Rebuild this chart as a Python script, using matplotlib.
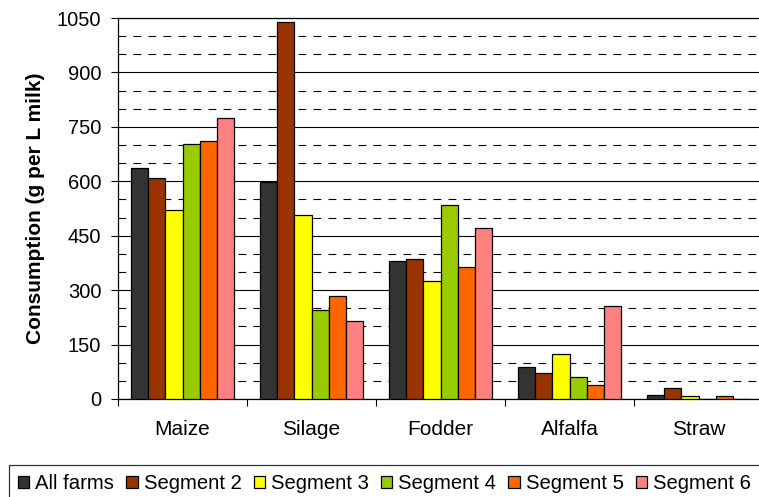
import matplotlib.pyplot as plt
import numpy as np
from matplotlib.ticker import MultipleLocator, FixedLocator, NullFormatter

plt.rcParams['font.family'] = ['Liberation Sans', 'DejaVu Sans']

feeds = ["Maize", "Silage", "Fodder", "Alfalfa", "Straw"]
groups = ["All farms", "Segment 2", "Segment 3", "Segment 4", "Segment 5", "Segment 6"]
all_farms = [637, 597, 379, 87, 12]
segment_2 = [609, 1040, 385, 73, 29]
segment_3 = [522, 508, 326, 123, 7]
segment_4 = [703, 246, 534, 61, 0]
segment_5 = [712, 283, 363, 39, 7]
segment_6 = [774, 216, 472, 255, 0]
colors = ["#333333", "#993300", "#FFFF00", "#99CC00", "#FF6600", "#FF8080"]

series = [all_farms, segment_2, segment_3, segment_4, segment_5, segment_6]

fig = plt.figure(figsize=(7.59, 4.97), dpi=100)
ax = fig.add_axes([118 / 759, 1 - 399 / 497, 645 / 759, 381 / 497])

x = np.arange(len(feeds))
w = 0.8 / len(series)
for i, (vals, name, col) in enumerate(zip(series, groups, colors)):
    ax.bar(x - 0.4 + w * (i + 0.5), vals, width=w, color=col, edgecolor="black",
           linewidth=0.9, label=name, zorder=3)

ax.set_xlim(-0.5, len(feeds) - 0.5)
ax.set_ylim(0, 1050)
ax.yaxis.set_major_locator(MultipleLocator(150))
ax.yaxis.set_minor_locator(MultipleLocator(50))
ax.grid(axis="y", which="major", color="black", linewidth=0.8)
ax.grid(axis="y", which="minor", color="black", linewidth=0.8, linestyle=(0, (7, 6.5)))
ax.set_axisbelow(True)

# category boundaries get the tick marks, centres get the labels
ax.xaxis.set_major_locator(FixedLocator(np.arange(-0.5, len(feeds), 1.0)))
ax.xaxis.set_major_formatter(NullFormatter())
ax.xaxis.set_minor_locator(FixedLocator(x))
ax.set_xticklabels(feeds, minor=True)
ax.tick_params(axis="x", which="major", length=5, width=0.8, direction="out")
ax.tick_params(axis="x", which="minor", length=0, pad=15, labelsize=15)
ax.tick_params(axis="y", which="major", length=5, width=0.8, pad=7, labelsize=14.5)
ax.tick_params(axis="y", which="minor", length=0)

for s in ["left", "bottom", "top"]:
    ax.spines[s].set_linewidth(0.9)
ax.spines["right"].set_visible(False)

fig.text(36 / 759, 1 - 208 / 497, "Consumption (g per L milk)", rotation=90,
         ha="center", va="center", fontsize=15, fontweight="bold")

leg = fig.legend(loc="upper left", bbox_to_anchor=(9 / 759, 1 - 465 / 497), ncol=6,
                 fontsize=14.6, frameon=True, fancybox=False, edgecolor="black",
                 handlelength=0.55, handleheight=0.55, handletextpad=0.3,
                 columnspacing=0.6, borderpad=0.45, borderaxespad=0)
leg.get_frame().set_linewidth(0.9)

fig.savefig("out.png", dpi=100)
